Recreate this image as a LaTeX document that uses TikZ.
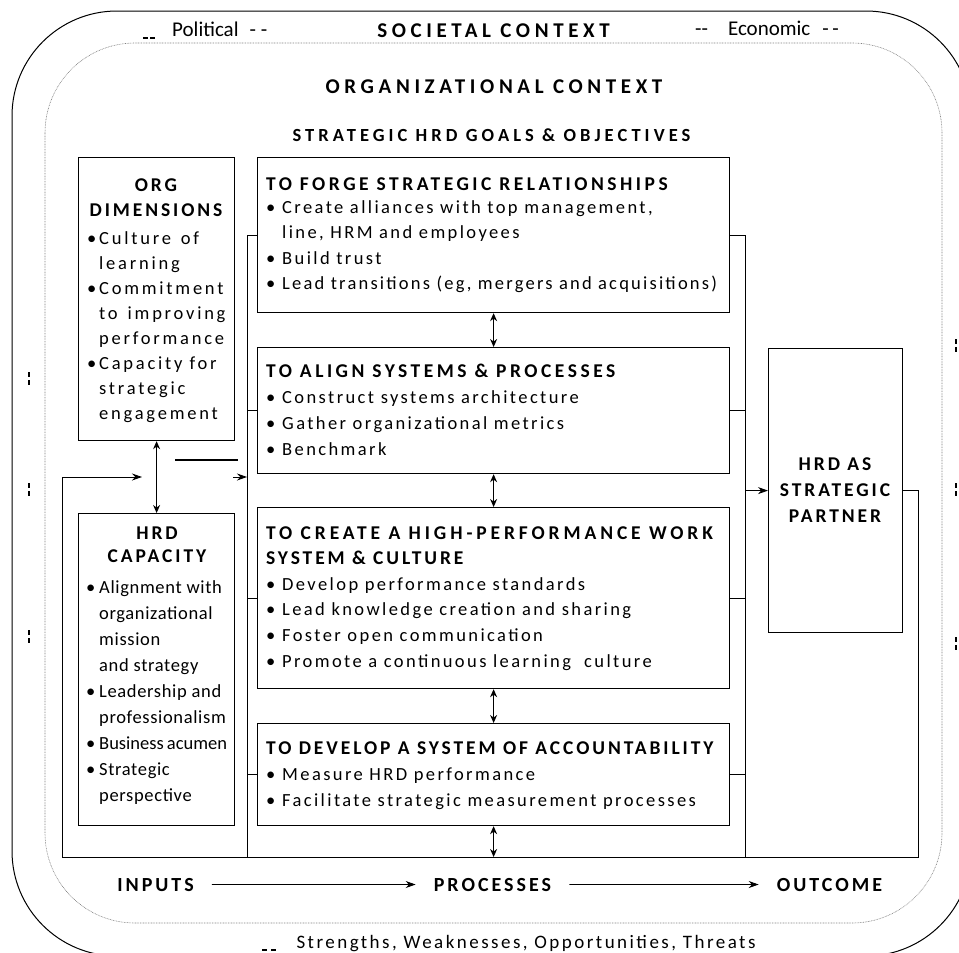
\documentclass[tikz,border=0pt]{standalone}
\usepackage{fontspec}
\setmainfont{Carlito}
\newfontfamily\goalfont{Carlito}[LetterSpace=13]
\newfontfamily\sidefont{Carlito}[LetterSpace=15]
\newfontfamily\capfont{Carlito}[LetterSpace=3.5]
\newfontfamily\headfont{Carlito}[LetterSpace=15]
\newfontfamily\titlefont{Carlito}[LetterSpace=22]
\usetikzlibrary{arrows.meta, positioning}

\newcommand{\hd}{\headfont\bfseries\fontsize{19.5}{26}\selectfont}
\newcommand{\gd}[1][18]{\hd\addfontfeatures{LetterSpace=#1}}
\newcommand{\itm}[1][16pt]{\makebox[#1][l]{\textbullet}}
\newcommand{\indt}[1][16pt]{\hspace*{#1}}

\begin{document}
\begin{tikzpicture}[
    x=1pt, y=-1pt,
    frame/.style={draw, line width=1.2pt, anchor=north west, inner sep=0pt},
    lst/.style={anchor=base west, align=left, inner sep=0pt},
    ttl/.style={anchor=base, align=center, inner sep=0pt, font=\hd},
    flow/.style={anchor=base, inner xsep=18pt, inner ysep=0pt, font=\headfont\bfseries\fontsize{20}{24}\selectfont},
    conn/.style={line width=0.9pt},
    arrow/.style={-{Stealth[length=10pt, width=7pt]}, line width=0.9pt},
    darrow/.style={{Stealth[length=8pt, width=7pt]}-{Stealth[length=8pt, width=7pt]}, line width=0.9pt},
    dashmark/.style={line width=1.3pt}
]
    \useasboundingbox (0,0) rectangle (959,953);
    \clip (0,0) rectangle (959,953);

    % Context frames
    \draw[line width=1pt, rounded corners=105pt] (12,11) rectangle (971,956);
    \draw[line width=0.6pt, gray, dash pattern=on 0.8pt off 0.8pt, rounded corners=90pt] (45,43) rectangle (942,923);

    \node[lst, font=\fontsize{21}{24}\selectfont] (political) at (172,36) {Political\hspace{11pt}- -};
    \node[anchor=base, inner sep=0pt, font=\titlefont\bfseries\fontsize{21}{24}\selectfont] (societal) at (493.5,37) {SOCIETAL CONTEXT};
    \node[lst, font=\fontsize{21}{24}\selectfont] (economic) at (695,35) {-{}-\hspace{20pt}Economic\hspace{12pt}-\,-};
    \node[anchor=base, inner sep=0pt, font=\titlefont\bfseries\fontsize{21}{24}\selectfont] (orgctx) at (494,93) {ORGANIZATIONAL CONTEXT};
    \node[anchor=base, inner sep=0pt, font=\titlefont\bfseries\fontsize{18.5}{24}\selectfont] (goals) at (491.5,141) {STRATEGIC HRD GOALS \& OBJECTIVES};
    \node[anchor=base, inner sep=0pt, font=\goalfont\fontsize{19}{24}\selectfont] (swot) at (526,948) {Strengths, Weaknesses, Opportunities, Threats};

    % Inputs
    \node[frame, minimum width=156pt, minimum height=283pt] (orgdim) at (78,157) {};
    \node[ttl] (orgdim-ttl) at (156,216) {ORG\\[-1pt]DIMENSIONS};
    \node[lst, font=\sidefont\fontsize{18.5}{25}\selectfont] (orgdim-lst) at (87,419)
        {\itm[12pt]Culture\ \hspace{3pt}of\\ \indt[12pt]learning\\ \itm[12pt]Commitment\\ \indt[12pt]to\ \hspace{3pt}improving\\
         \indt[12pt]performance\\ \itm[12pt]Capacity for\\ \indt[12pt]strategic\\ \indt[12pt]engagement};

    \node[frame, minimum width=156pt, minimum height=312pt] (hrdcap) at (78,513) {};
    \node[ttl] (hrdcap-ttl) at (157,562) {HRD\\[-3pt]CAPACITY};
    \node[lst, font=\capfont\fontsize{18.5}{26}\selectfont] (hrdcap-lst) at (86,801)
        {\itm[13pt]Alignment with\\ \indt[13pt]organizational\\ \indt[13pt]mission\\ \indt[13pt]and strategy\\
         \itm[13pt]Leadership and\\ \indt[13pt]professionalism\\ \itm[13pt]{\rmfamily Business\,acumen}\\
         \itm[13pt]Strategic\\ \indt[13pt]perspective};

    % Processes
    \node[frame, minimum width=472pt, minimum height=155pt] (forge) at (257,157) {};
    \node[lst, font=\goalfont\fontsize{18.5}{25.5}\selectfont] (forge-txt) at (266,289.5)
        {{\gd TO FORGE STRATEGIC RELATIONSHIPS}\\[-2.5pt]
         \itm Create alliances with top management,\\ \indt line, HRM and employees\\
         \itm Build trust\\ \itm {\addfontfeatures{LetterSpace=12}Lead transitions (eg, mergers and acquisitions)}};

    \node[frame, minimum width=472pt, minimum height=126pt] (align) at (257,347) {};
    \node[lst, font=\goalfont\fontsize{18.5}{26}\selectfont] (align-txt) at (266,455)
        {{\gd TO ALIGN SYSTEMS \& PROCESSES}\\ \itm Construct systems architecture\\
         \itm Gather organizational metrics\\ \itm Benchmark};

    \node[frame, minimum width=472pt, minimum height=181pt] (perform) at (257,507) {};
    \node[lst, font=\goalfont\fontsize{18.5}{25.8}\selectfont] (perform-txt) at (266,667.5)
        {{\gd[20] TO CREATE A HIGH-PERFORMANCE WORK}\\[-0.8pt] {\gd[15] SYSTEM \& CULTURE}\\
         \itm Develop performance standards\\ \itm Lead knowledge creation and sharing\\
         \itm Foster open communication\\ \itm Promote a continuous learning\ \ culture};

    \node[frame, minimum width=472pt, minimum height=102pt] (account) at (257,723) {};
    \node[lst, font=\goalfont\fontsize{18.5}{26}\selectfont] (account-txt) at (266,806.5)
        {{\gd[15] TO DEVELOP A SYSTEM OF ACCOUNTABILITY}\\ \itm Measure HRD performance\\
         \itm Facilitate strategic measurement processes};

    % Outcome
    \node[frame, minimum width=134pt, minimum height=284pt] (partner) at (768,348) {};
    \node[ttl] (partner-ttl) at (835,522) {HRD AS\\STRATEGIC\\PARTNER};

    % Buses and feedback loop
    \coordinate (lbus) at (247,857);
    \coordinate (rbus) at (745,857);
    \coordinate (fb-r) at (918,857);
    \coordinate (fb-l) at (62,857);
    \coordinate (fb-in) at (142,477);
    \coordinate (stub-a) at (175,460);
    \coordinate (stub-b) at (238,460);
    \coordinate (tip-a) at (233,477);

    \draw[conn] (forge.west) -| (lbus);
    \draw[conn] (forge.east) -| (rbus);
    \foreach \b in {align, perform, account} {
        \draw[conn] (\b.west) -- (\b.west -| lbus);
        \draw[conn] (\b.east) -- (\b.east -| rbus);
    }
    \draw[arrow] (partner.west -| rbus) -- (partner.west);
    \draw[arrow] (partner.east) -| (fb-r) -- (fb-l) |- (fb-in);

    \draw[darrow] (forge.south) -- (align.north);
    \draw[darrow] (align.south) -- (perform.north);
    \draw[darrow] (perform.south) -- (account.north);
    \draw[darrow] (account.south) -- (account.south |- lbus);
    \draw[darrow] (orgdim.south) -- (hrdcap.north);

    \draw[line width=1.4pt] (stub-a) -- (stub-b);
    \draw[arrow] (tip-a) -- (tip-a -| lbus);

    % Flow labels
    \node[flow] (inputs) at (155.5,891) {INPUTS};
    \node[flow] (processes) at (492.5,891) {PROCESSES};
    \node[flow] (outcome) at (829.5,891) {OUTCOME};
    \draw[arrow] (inputs) -- (processes);
    \draw[arrow] (processes) -- (outcome);

    % Stray marks
    \foreach \y in {372, 483, 630} {
        \draw[dashmark] (29,\y) -- ++(0,5);
        \draw[dashmark] (29,\y+8) -- ++(0,5);
    }
    \foreach \y in {339, 483, 637} {
        \draw[dashmark] (956,\y) -- ++(0,5);
        \draw[dashmark] (956,\y+8) -- ++(0,5);
    }
    \draw[line width=2pt] (143,38) -- (148,38) (150,38) -- (155,38);
    \draw[line width=2pt] (262,950) -- (267,950) (271,950) -- (276,950);
\end{tikzpicture}
\end{document}
